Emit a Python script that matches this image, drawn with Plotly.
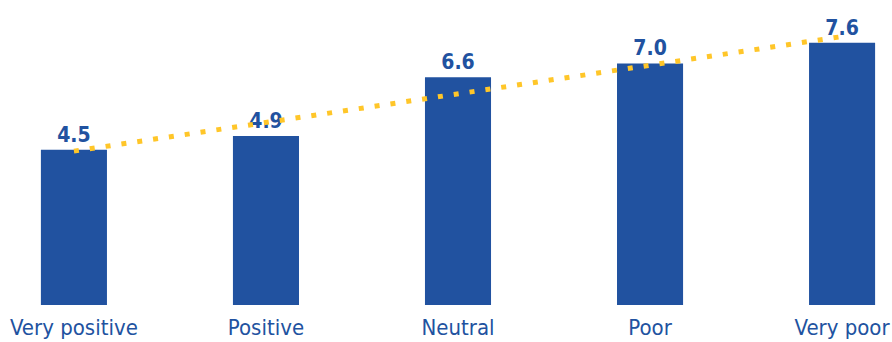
import numpy as np
import plotly.graph_objects as go

categories = ["Very positive", "Positive", "Neutral", "Poor", "Very poor"]
values = [4.5, 4.9, 6.6, 7.0, 7.6]
labels = ["4.5", "4.9", "6.6", "7.0", "7.6"]

BLUE = "#2152A0"
YELLOW = "#FFC629"
FONT = "DejaVu Sans Condensed, sans-serif"

idx = np.arange(len(values))
slope, intercept = np.polyfit(idx, values, 1)
trend_x = [categories[0], categories[-1]]
trend_y = [intercept + slope * idx[0], intercept + slope * idx[-1]]

fig = go.Figure()
fig.add_trace(go.Bar(
    x=categories, y=values, text=labels, textposition="outside",
    marker=dict(color=BLUE, line=dict(width=0)),
    textfont=dict(family=FONT, size=21, color=BLUE, weight="bold"),
    cliponaxis=False, width=0.344,
))
fig.add_trace(go.Scatter(
    x=trend_x, y=trend_y, mode="lines",
    line=dict(color=YELLOW, width=5, dash="5px,11px"),
    hoverinfo="skip",
))
fig.update_layout(
    width=892, height=342,
    margin=dict(l=0, r=0, t=0, b=37),
    paper_bgcolor="white", plot_bgcolor="white",
    showlegend=False,
    xaxis=dict(range=[-0.385, 4.26], showgrid=False, zeroline=False, showline=False,
               automargin=False, ticks="", ticklabelstandoff=7,
               tickfont=dict(family=FONT, size=22, color=BLUE)),
    yaxis=dict(range=[0, 8.84], visible=False, automargin=False),
)
fig.write_html("out.html")
